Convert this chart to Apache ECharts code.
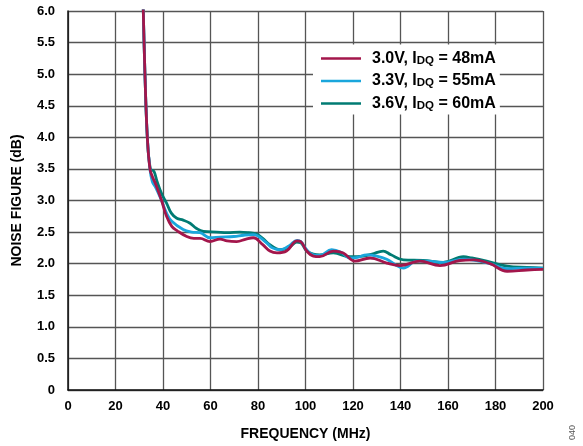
<!DOCTYPE html>
<html><head><meta charset="utf-8">
<script src="https://cdn.jsdelivr.net/npm/echarts@6/dist/echarts.min.js"></script>
<style>html,body{margin:0;padding:0;background:#fff}#c{width:583px;height:446px}</style>
</head><body><div id="c"></div>
<script>
const seriesNames = ['3.0V, IDQ = 48mA', '3.3V, IDQ = 55mA', '3.6V, IDQ = 60mA'];
const xTicks = [0,20,40,60,80,100,120,140,160,180,200];
const yTicks = [0,0.5,1.0,1.5,2.0,2.5,3.0,3.5,4.0,4.5,5.0,5.5,6.0];
const red30 = [[31.5,6.3],[31.7,6.0],[32.4,5.0],[33.4,4.0],[34.5,3.5],[35.5,3.38],[37,3.25],[39.4,3.0],[41.5,2.75],[43.7,2.59],[46,2.52],[50,2.43],[53,2.40],[55.6,2.40],[59.8,2.35],[64,2.39],[67,2.36],[71,2.35],[75,2.39],[78,2.41],[82,2.30],[85,2.20],[88,2.17],[92,2.2],[96.5,2.36],[98,2.35],[100.5,2.2],[103.3,2.12],[106,2.11],[111.7,2.2],[115.9,2.17],[120.8,2.04],[127.2,2.09],[134.2,2.01],[139.8,1.97],[148.2,2.04],[156.6,1.97],[165,2.05],[170.7,2.06],[177.7,2.0],[184.9,1.88],[193.3,1.90],[200,1.91]];
const blue33 = [[31.5,6.3],[31.7,6.0],[32.4,5.0],[33.4,4.0],[34.5,3.5],[35.5,3.3],[37,3.2],[39.4,3.0],[41.5,2.8],[43.7,2.67],[48.5,2.54],[52,2.50],[55.6,2.49],[59.8,2.41],[64,2.42],[69.8,2.43],[74,2.45],[78,2.46],[83.6,2.33],[86,2.25],[89.3,2.22],[93,2.28],[96.5,2.37],[98,2.35],[100.5,2.22],[103.3,2.14],[106,2.13],[111,2.22],[115,2.18],[118.7,2.09],[122,2.1],[125.7,2.14],[130,2.12],[134.2,2.07],[138,1.98],[141.2,1.93],[146.8,2.04],[152,2.04],[158,2.02],[166.5,2.07],[172,2.05],[177.7,2.0],[184.9,1.92],[193,1.93],[200,1.93]];
const teal36 = [[31.5,6.3],[31.7,6.0],[32.4,5.0],[33.4,4.0],[34.7,3.5],[36.2,3.46],[37.5,3.3],[39.5,3.1],[41.5,2.96],[43.5,2.8],[45.8,2.72],[48.5,2.69],[51.4,2.64],[54,2.56],[57,2.51],[62.6,2.50],[67,2.49],[72.4,2.50],[76,2.49],[79.4,2.47],[82,2.40],[85,2.30],[89.3,2.22],[93.5,2.27],[96.3,2.34],[98,2.33],[100.5,2.2],[103.3,2.15],[106,2.14],[111.7,2.17],[118.7,2.11],[124.3,2.12],[128,2.15],[132.7,2.20],[136,2.14],[141.2,2.06],[149.6,2.05],[158,2.02],[166.5,2.11],[170,2.09],[176.3,2.04],[184.9,1.96],[193.3,1.94],[200,1.93]];
const colors = ['#A3164B', '#1AA6DC', '#007B73'];

const chart = echarts.init(document.getElementById('c'), null, {renderer:'canvas'});
const FONT = 'Liberation Sans, Arial, sans-serif';
function mk(name, data, color, z) {
  return {name, type:'line', data, smooth:0.4, symbol:'none', clip:true, z,
    lineStyle:{color, width:2.8}, itemStyle:{color}};
}
chart.setOption({
  animation:false,
  grid:{left:68, right:40, top:11, bottom:55, containLabel:false},
  xAxis:{type:'value', min:xTicks[0], max:xTicks[xTicks.length-1], interval:20,
    axisLine:{show:true, onZero:false, lineStyle:{color:'#111', width:1.5}},
    axisTick:{show:false},
    axisLabel:{color:'#000', fontWeight:'bold', fontSize:13, fontFamily:FONT, margin:10},
    splitLine:{show:true, lineStyle:{color:'#555', width:1.3}},
    name:'FREQUENCY (MHz)', nameLocation:'middle', nameGap:37,
    nameTextStyle:{color:'#000', fontWeight:'bold', fontSize:14, fontFamily:FONT}},
  yAxis:{type:'value', min:yTicks[0], max:yTicks[yTicks.length-1], interval:0.5,
    axisLine:{show:true, onZero:false, lineStyle:{color:'#111', width:1.5}},
    axisTick:{show:false},
    axisLabel:{color:'#000', fontWeight:'bold', fontSize:13, fontFamily:FONT, margin:13,
      formatter:v => v === 0 ? '0' : v.toFixed(1)},
    splitLine:{show:true, lineStyle:{color:'#555', width:1.3}},
    name:'NOISE FIGURE (dB)', nameLocation:'middle', nameGap:44, nameRotate:90,
    nameTextStyle:{color:'#000', fontWeight:'bold', fontSize:14, fontFamily:FONT}},
  legend:{show:true, orient:'vertical', left:313, top:44.5, itemWidth:40, itemHeight:10, itemGap:3.5,
    backgroundColor:'#fff', padding:[3,4,3,8],
    data:seriesNames.map((n,i)=>({name:n, icon:'path://M0,4L40,4L40,6.5L0,6.5Z', itemStyle:{color:colors[i]}})),
    formatter: n => {
      const m = n.match(/^(.*), IDQ = (.*)$/);
      return '{f|' + m[1] + ', I}{s|DQ}{t| = ' + m[2] + '}';
    },
    textStyle:{color:'#000', fontWeight:'bold', fontSize:16, fontFamily:FONT,
      rich:{f:{fontSize:16, fontWeight:'bold', fontFamily:FONT, color:'#000', verticalAlign:'middle', lineHeight:16, padding:[0,0,0,6]},
            t:{fontSize:16, fontWeight:'bold', fontFamily:FONT, color:'#000', verticalAlign:'middle', lineHeight:16},
            s:{fontSize:11.5, fontWeight:'bold', fontFamily:FONT, color:'#000', verticalAlign:'bottom', lineHeight:16, padding:[7,0,0,0]}}}},
  graphic:[{type:'text', left:568, top:425, rotation:Math.PI/2,
    style:{text:'040', fill:'#555', font:'9px Liberation Sans, Arial, sans-serif'}}],
  series:[mk(seriesNames[2], teal36, colors[2], 2), mk(seriesNames[1], blue33, colors[1], 3), mk(seriesNames[0], red30, colors[0], 4)]
});
</script></body></html>
